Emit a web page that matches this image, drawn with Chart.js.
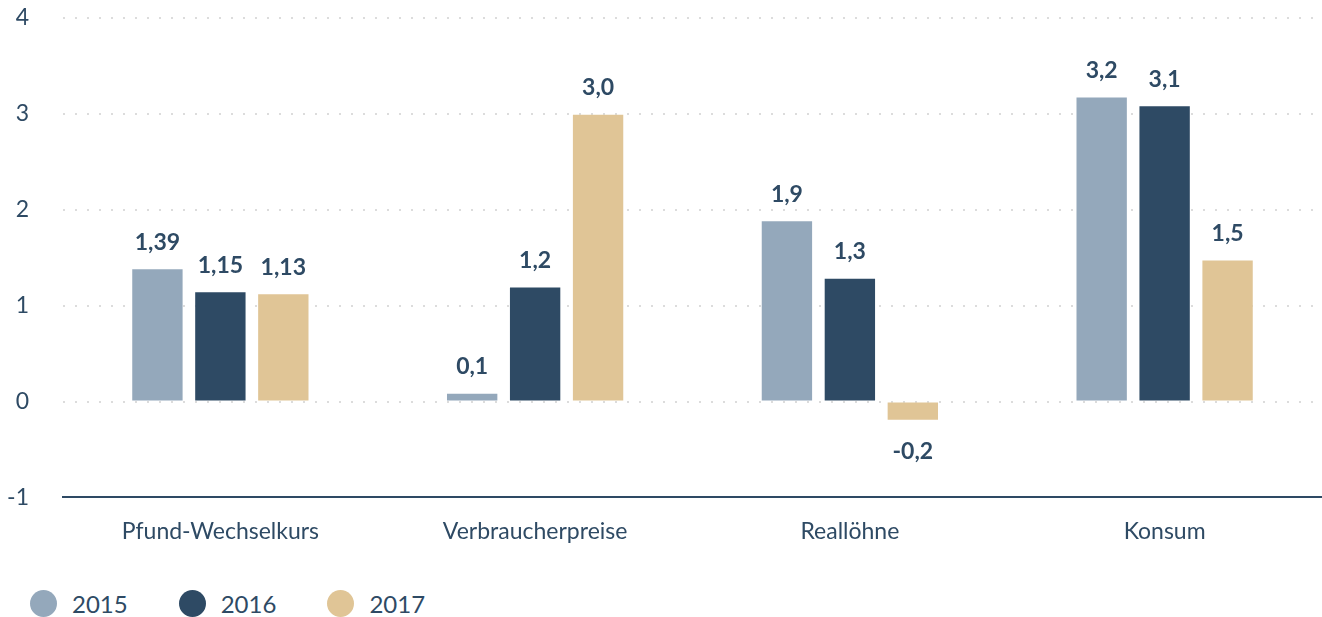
<!DOCTYPE html>
<html lang="de">
<head>
<meta charset="utf-8">
<title>Brexit-Folgen</title>
<script src="https://cdn.jsdelivr.net/npm/chart.js@4.4.1/dist/chart.umd.min.js"></script>
<style>
  html, body { margin: 0; padding: 0; background: #fff; }
  #wrap { position: relative; width: 1322px; height: 575px; }
  #legend { display: flex; margin: 14px 0 0 30px; font: 24px Lato, "Noto Sans", sans-serif; color: #2e4a64; }
  #legend .item { display: flex; align-items: center; margin-right: 51px; }
  #legend .dot { width: 27px; height: 27px; border-radius: 50%; margin-right: 15px; }
</style>
</head>
<body>
<div id="wrap"><canvas id="chart"></canvas></div>
<div id="legend"></div>
<script>
// categories and series
const categories = ['Pfund-Wechselkurs', 'Verbraucherpreise', 'Reallöhne', 'Konsum'];
const years = ['2015', '2016', '2017'];
const values2015 = [1.38, 0.08, 1.88, 3.17];
const values2016 = [1.14, 1.19, 1.28, 3.08];
const values2017 = [1.12, 2.99, -0.19, 1.47];
const labels2015 = ['1,39', '0,1', '1,9', '3,2'];
const labels2016 = ['1,15', '1,2', '1,3', '3,1'];
const labels2017 = ['1,13', '3,0', '-0,2', '1,5'];
const yTicks = [-1, 0, 1, 2, 3, 4];

const colors = ['#94a8bb', '#2e4a64', '#e0c596'];
const textColor = '#2e4a64';
const fontFamily = 'Lato, "Noto Sans", sans-serif';

// draws the value text above (or below) every bar
const valueLabels = {
  id: 'valueLabels',
  afterDatasetsDraw(chart) {
    const ctx = chart.ctx;
    ctx.save();
    ctx.font = 'bold 23px ' + fontFamily;
    ctx.fillStyle = textColor;
    ctx.textAlign = 'center';
    ctx.textBaseline = 'middle';
    chart.data.datasets.forEach((ds, i) => {
      chart.getDatasetMeta(i).data.forEach((bar, j) => {
        const v = ds.data[j];
        const y = v >= 0 ? bar.y - 27 : bar.y + 32;
        ctx.fillText(ds.valueLabels[j], bar.x, y);
      });
    });
    ctx.restore();
  }
};

const seriesValues = [values2015, values2016, values2017];
const seriesLabels = [labels2015, labels2016, labels2017];

new Chart(document.getElementById('chart'), {
  type: 'bar',
  data: {
    labels: categories,
    datasets: years.map((yr, i) => ({
      label: yr,
      data: seriesValues[i],
      valueLabels: seriesLabels[i],
      backgroundColor: colors[i],
      borderWidth: 0,
      barPercentage: 0.8,
      categoryPercentage: 0.6
    }))
  },
  options: {
    responsive: true,
    maintainAspectRatio: false,
    animation: false,
    layout: { padding: { left: 0, top: 18, right: 0, bottom: 10 } },
    plugins: {
      tooltip: { enabled: false },
      legend: { display: false }
    },
    scales: {
      x: {
        grid: { display: false, drawTicks: false },
        border: { display: true, color: textColor, width: 2 },
        ticks: {
          color: textColor,
          padding: 20,
          font: { family: fontFamily, size: 23 }
        }
      },
      y: {
        min: -1,
        max: 4,
        afterBuildTicks: (axis) => { axis.ticks = yTicks.map(v => ({ value: v })); },
        afterFit: (axis) => {
          axis.width = 63;
          axis.paddingTop = 0;
          axis.paddingBottom = 0;
        },
        grid: {
          drawTicks: false,
          color: (c) => c.tick && c.tick.value === -1 ? 'rgba(0,0,0,0)' : '#dcdcdc',
          lineWidth: 2
        },
        border: { display: false, dash: [2, 10] },
        ticks: {
          color: textColor,
          padding: 34,
          font: { family: fontFamily, size: 23 }
        }
      }
    }
  },
  plugins: [valueLabels]
});

// legend built from the same years and colours
const legend = document.getElementById('legend');
years.forEach((yr, i) => {
  const item = document.createElement('div');
  item.className = 'item';
  item.innerHTML = '<span class="dot" style="background:' + colors[i] + '"></span><span>' + yr + '</span>';
  legend.appendChild(item);
});
</script>
</body>
</html>
